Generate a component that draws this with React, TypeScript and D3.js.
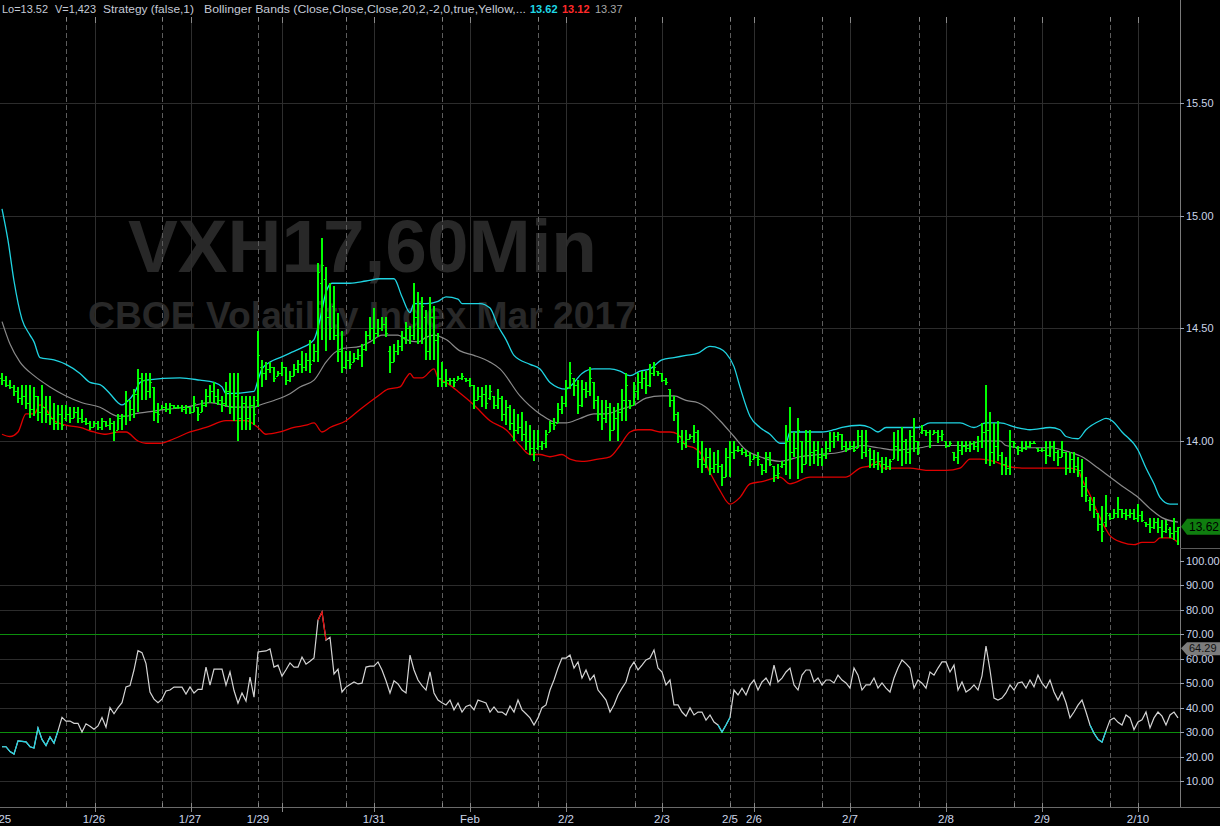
import { useEffect } from "react";
import * as d3 from "d3";

// hourly bars: [open, high, low, close]
const priceBars: [number, number, number, number][] = [
  [14.28,14.30,14.25,14.27],[14.27,14.29,14.24,14.25],[14.25,14.27,14.23,14.24],[14.24,14.25,14.20,14.22],[14.22,14.24,14.17,14.19],
  [14.19,14.25,14.16,14.20],[14.20,14.25,14.14,14.17],[14.17,14.25,14.10,14.14],[14.14,14.24,14.11,14.20],[14.20,14.20,14.09,14.13],
  [14.13,14.25,14.08,14.15],[14.15,14.20,14.08,14.12],[14.12,14.20,14.07,14.10],[14.10,14.17,14.05,14.08],[14.08,14.16,14.05,14.12],
  [14.12,14.16,14.05,14.07],[14.10,14.16,14.09,14.12],[14.12,14.15,14.08,14.10],[14.10,14.15,14.10,14.13],[14.13,14.15,14.08,14.10],
  [14.10,14.14,14.08,14.09],[14.09,14.10,14.07,14.08],[14.08,14.09,14.05,14.06],[14.06,14.09,14.06,14.08],[14.08,14.09,14.05,14.06],
  [14.06,14.10,14.05,14.09],[14.09,14.09,14.06,14.07],[14.07,14.10,14.05,14.08],[14.08,14.09,14.00,14.04],[14.05,14.12,14.05,14.10],
  [14.10,14.12,14.05,14.11],[14.11,14.22,14.07,14.18],[14.18,14.18,14.09,14.14],[14.14,14.23,14.10,14.21],[14.21,14.32,14.13,14.28],
  [14.28,14.30,14.18,14.27],[14.27,14.30,14.18,14.22],[14.22,14.30,14.19,14.26],[14.24,14.24,14.09,14.13],[14.13,14.17,14.08,14.12],
  [14.14,14.16,14.14,14.15],[14.15,14.17,14.13,14.14],[14.14,14.17,14.12,14.16],[14.16,14.16,14.14,14.15],[14.15,14.16,14.14,14.15],
  [14.15,14.16,14.13,14.14],[14.14,14.16,14.12,14.15],[14.15,14.15,14.12,14.13],[14.13,14.20,14.13,14.17],[14.15,14.15,14.09,14.12],
  [14.13,14.18,14.13,14.16],[14.16,14.23,14.15,14.20],[14.20,14.25,14.17,14.22],[14.22,14.26,14.17,14.20],[14.20,14.23,14.16,14.18],
  [14.18,14.20,14.13,14.17],[14.17,14.26,14.15,14.22],[14.22,14.30,14.12,14.15],[14.15,14.30,14.09,14.20],[14.20,14.30,14.00,14.10],
  [14.10,14.20,14.05,14.17],[14.17,14.20,14.05,14.10],[14.10,14.20,14.05,14.16],[14.16,14.20,14.07,14.12],[14.18,14.49,14.15,14.38],
  [14.33,14.36,14.24,14.30],[14.30,14.35,14.27,14.32],[14.32,14.35,14.30,14.33],[14.33,14.33,14.26,14.28],[14.29,14.31,14.29,14.30],
  [14.30,14.35,14.29,14.33],[14.33,14.33,14.25,14.27],[14.27,14.31,14.26,14.29],[14.29,14.34,14.29,14.32],[14.32,14.36,14.30,14.34],
  [14.34,14.40,14.30,14.33],[14.33,14.39,14.31,14.36],[14.36,14.45,14.30,14.34],[14.36,14.43,14.35,14.40],[14.40,14.79,14.35,14.75],
  [14.70,14.90,14.45,14.78],[14.72,14.77,14.40,14.55],[14.55,14.70,14.45,14.50],[14.60,14.69,14.45,14.47],[14.47,14.57,14.35,14.40],
  [14.40,14.49,14.30,14.33],[14.33,14.40,14.32,14.36],[14.36,14.40,14.32,14.34],[14.35,14.39,14.35,14.37],[14.37,14.41,14.36,14.38],
  [14.38,14.43,14.33,14.41],[14.41,14.49,14.40,14.47],[14.47,14.55,14.45,14.50],[14.50,14.59,14.43,14.48],[14.48,14.54,14.46,14.50],
  [14.50,14.55,14.49,14.52],[14.52,14.55,14.46,14.48],[14.40,14.42,14.30,14.35],[14.35,14.43,14.35,14.40],[14.40,14.45,14.38,14.42],
  [14.42,14.49,14.40,14.46],[14.46,14.53,14.43,14.50],[14.50,14.51,14.43,14.47],[14.47,14.70,14.45,14.55],[14.55,14.66,14.43,14.50],
  [14.50,14.64,14.43,14.60],[14.55,14.58,14.36,14.40],[14.40,14.64,14.36,14.55],[14.55,14.60,14.36,14.45],[14.45,14.48,14.24,14.28],
  [14.28,14.35,14.24,14.26],[14.26,14.32,14.24,14.27],[14.27,14.28,14.25,14.27],[14.27,14.28,14.24,14.26],[14.27,14.29,14.27,14.28],
  [14.28,14.30,14.27,14.29],[14.28,14.28,14.26,14.27],[14.27,14.28,14.24,14.25],[14.25,14.25,14.14,14.18],[14.18,14.24,14.18,14.20],
  [14.20,14.24,14.15,14.21],[14.21,14.25,14.14,14.17],[14.19,14.25,14.18,14.22],[14.20,14.20,14.14,14.16],[14.16,14.23,14.14,14.19],
  [14.19,14.20,14.09,14.12],[14.12,14.18,14.07,14.15],[14.15,14.16,14.05,14.08],[14.08,14.14,14.00,14.05],[14.05,14.12,14.03,14.06],
  [14.06,14.13,14.00,14.03],[14.03,14.09,13.96,14.00],[14.00,14.07,13.94,13.97],[13.97,14.05,13.91,13.95],[13.97,14.05,13.96,13.98],
  [13.98,14.00,13.96,13.99],[13.99,14.05,13.97,14.03],[14.04,14.09,14.04,14.08],[14.08,14.10,14.05,14.07],[14.08,14.17,14.08,14.14],
  [14.14,14.20,14.12,14.17],[14.17,14.27,14.15,14.24],[14.24,14.35,14.23,14.30],[14.28,14.28,14.20,14.25],[14.25,14.27,14.12,14.16],
  [14.16,14.27,14.15,14.23],[14.23,14.26,14.19,14.22],[14.22,14.33,14.20,14.28],[14.26,14.26,14.14,14.18],[14.18,14.20,14.09,14.12],
  [14.12,14.18,14.05,14.10],[14.10,14.18,14.08,14.15],[14.15,14.17,14.00,14.05],[14.05,14.15,14.05,14.10],[14.10,14.17,14.00,14.13],
  [14.13,14.23,14.09,14.18],[14.18,14.30,14.09,14.25],[14.18,14.18,14.14,14.16],[14.16,14.26,14.16,14.22],[14.22,14.30,14.18,14.26],
  [14.26,14.31,14.23,14.28],[14.28,14.31,14.21,14.25],[14.25,14.34,14.24,14.30],[14.30,14.35,14.29,14.33],[14.31,14.31,14.29,14.30],
  [14.30,14.30,14.26,14.27],[14.27,14.28,14.25,14.26],[14.23,14.23,14.15,14.18],[14.18,14.20,14.09,14.12],[14.12,14.13,13.99,14.02],
  [14.02,14.05,13.96,13.99],[13.99,14.05,13.97,14.01],[14.01,14.03,14.01,14.02],[14.02,14.07,13.99,14.04],[14.04,14.05,13.88,13.92],
  [13.92,14.00,13.86,13.90],[13.90,13.97,13.88,13.93],[13.93,13.97,13.85,13.88],[13.88,13.95,13.86,13.90],[13.90,13.96,13.86,13.89],
  [13.89,13.90,13.80,13.84],[13.84,13.97,13.84,13.93],[13.93,14.00,13.84,13.95],[13.95,14.00,13.92,13.96],[13.96,13.98,13.95,13.96],
  [13.96,13.97,13.94,13.95],[13.95,13.96,13.93,13.94],[13.94,13.95,13.89,13.91],[13.92,13.94,13.92,13.93],[13.93,13.95,13.89,13.92],
  [13.90,13.90,13.85,13.87],[13.87,13.95,13.86,13.93],[13.93,13.95,13.89,13.90],[13.89,13.89,13.82,13.85],[13.85,13.90,13.83,13.86],
  [13.89,13.91,13.88,13.90],[13.90,14.07,13.85,14.00],[14.00,14.15,13.83,13.95],[13.95,14.04,13.93,13.97],[13.97,14.10,13.83,14.05],
  [14.00,14.00,13.86,13.90],[13.90,14.05,13.90,14.00],[14.00,14.05,13.89,13.95],[13.95,14.00,13.90,13.96],[13.96,14.00,13.89,13.93],
  [13.93,13.97,13.89,13.94],[13.94,14.00,13.92,13.97],[13.97,14.04,13.95,14.00],[14.00,14.04,13.97,14.02],[14.02,14.04,14.00,14.03],
  [14.03,14.03,13.96,13.98],[13.98,14.00,13.95,13.97],[13.97,14.00,13.96,13.98],[13.98,14.00,13.95,13.96],[13.97,14.05,13.97,14.02],
  [14.02,14.05,13.92,13.95],[13.95,14.05,13.93,14.00],[13.96,13.97,13.88,13.92],[13.92,13.96,13.88,13.90],[13.90,13.95,13.87,13.91],
  [13.91,13.93,13.86,13.90],[13.90,13.93,13.87,13.89],[13.89,13.92,13.87,13.91],[13.92,14.04,13.92,13.98],[13.98,14.05,13.91,13.96],
  [13.96,14.06,13.89,14.00],[14.00,14.01,13.90,13.95],[13.95,14.05,13.90,14.02],[14.02,14.10,13.95,14.00],[14.00,14.00,13.94,13.97],
  [14.04,14.07,14.03,14.05],[14.05,14.05,14.02,14.04],[14.04,14.05,13.97,14.00],[14.03,14.05,14.03,14.04],[14.04,14.05,13.99,14.02],
  [14.02,14.05,14.00,14.03],[14.00,14.00,13.97,13.98],[13.98,14.00,13.98,13.99],[13.95,13.95,13.91,13.93],[13.93,14.00,13.90,13.96],
  [13.96,14.00,13.94,13.98],[13.98,14.00,13.95,13.97],[13.97,14.00,13.95,13.99],[13.99,14.00,13.96,13.98],[13.98,14.02,13.95,14.00],
  [14.00,14.08,13.97,14.04],[14.04,14.25,13.90,14.05],[14.05,14.13,13.89,13.95],[13.95,14.08,13.90,13.98],[13.98,14.09,13.91,13.94],
  [13.94,13.95,13.85,13.90],[13.90,13.93,13.85,13.88],[13.88,14.05,13.85,14.00],[14.00,14.00,13.97,13.99],[13.97,13.98,13.94,13.96],
  [13.96,14.00,13.95,13.97],[13.97,14.00,13.96,13.98],[13.98,14.00,13.97,13.99],[13.99,14.00,13.99,13.99],[13.97,13.97,13.95,13.96],
  [13.96,13.97,13.95,13.96],[13.96,14.00,13.90,13.94],[13.94,14.00,13.93,13.98],[13.98,14.00,13.91,13.95],[13.95,13.96,13.89,13.93],
  [13.93,14.00,13.93,13.95],[13.95,13.95,13.85,13.88],[13.88,13.95,13.86,13.92],[13.92,13.95,13.86,13.89],[13.89,13.93,13.84,13.87],
  [13.87,13.92,13.75,13.80],[13.80,13.84,13.73,13.76],[13.74,13.75,13.69,13.72],[13.72,13.75,13.66,13.70],[13.68,13.68,13.60,13.63],
  [13.63,13.71,13.55,13.60],[13.64,13.76,13.62,13.68],[13.67,13.68,13.65,13.66],[13.66,13.70,13.66,13.68],[13.68,13.75,13.66,13.70],
  [13.70,13.70,13.66,13.68],[13.68,13.70,13.65,13.67],[13.67,13.70,13.66,13.68],[13.68,13.70,13.65,13.66],[13.66,13.72,13.64,13.67],
  [13.67,13.69,13.64,13.65],[13.64,13.64,13.62,13.63],[13.63,13.66,13.59,13.62],[13.62,13.66,13.61,13.64],[13.64,13.66,13.59,13.62],
  [13.62,13.65,13.57,13.60],[13.60,13.65,13.59,13.63],[13.61,13.62,13.57,13.59],[13.59,13.66,13.56,13.60],[13.60,13.62,13.54,13.62],
];

// Bollinger bands: [bar, price]
const upperBand: [number, number][] = [
  [0,15.03],[1.5,14.89],[3,14.71],[5,14.54],[7,14.47],[8,14.44],[9.5,14.37],[13,14.36],[16,14.34],[19.5,14.30],[22,14.26],
  [24.5,14.25],[27,14.21],[29,14.17],[30,14.16],[31,14.17],[33,14.21],[34.5,14.26],[36,14.27],[44.5,14.28],[49.5,14.27],
  [53,14.26],[55,14.24],[56,14.21],[63,14.22],[64,14.27],[65,14.32],[67,14.35],[69.5,14.37],[72,14.39],[74.5,14.41],[78,14.45],
  [79.5,14.54],[81,14.66],[82.5,14.70],[87,14.70],[91,14.71],[94.5,14.72],[98,14.72],[100,14.64],[102,14.57],[103,14.61],
  [106,14.61],[109,14.62],[111,14.64],[114,14.63],[115,14.61],[119.5,14.61],[122,14.59],[124,14.51],[126,14.45],[128,14.38],
  [132,14.34],[134.5,14.32],[137,14.26],[141,14.23],[142.5,14.25],[145,14.30],[148,14.32],[152,14.32],[154.5,14.31],[157,14.29],
  [159.5,14.31],[162,14.32],[165,14.36],[168,14.37],[171,14.38],[174,14.39],[177,14.42],[179.5,14.41],[181,14.39],[183,14.33],
  [184.5,14.24],[187,14.11],[189.5,14.06],[192,14.03],[194.5,13.99],[196,13.99],[197,14.04],[199.5,14.04],[205,14.04],[208,14.05],
  [210,14.06],[214.5,14.07],[217,14.06],[219,14.04],[221,14.06],[225,14.06],[229,14.06],[232,14.08],[236,14.08],[239.5,14.08],
  [243,14.06],[246,14.08],[249.5,14.08],[253.5,14.06],[257,14.05],[262,14.06],[264.5,14.05],[266,14.02],[269,14.01],[271,14.05],
  [274.5,14.09],[276,14.10],[277.5,14.09],[280,14.04],[284,13.96],[286,13.88],[288,13.81],[289.5,13.75],[292,13.72],[294,13.72],
];
const middleBand: [number, number][] = [
  [0,14.53],[2,14.43],[4.5,14.35],[8,14.29],[12,14.24],[16,14.20],[20,14.17],[24.5,14.15],[29,14.11],[31,14.11],[33,14.12],
  [37,14.13],[41,14.14],[46,14.15],[52,14.17],[58,14.15],[63,14.15],[64.5,14.16],[68,14.18],[72,14.21],[74.5,14.24],[78,14.27],
  [81,14.35],[83,14.39],[85,14.41],[89.5,14.42],[92,14.44],[95,14.47],[99,14.47],[101,14.45],[104,14.44],[106,14.46],[108,14.47],
  [111,14.45],[114.5,14.40],[118,14.38],[122,14.35],[124.5,14.32],[129.5,14.20],[134.5,14.12],[139,14.08],[141,14.08],
  [144.5,14.10],[148,14.12],[151,14.12],[154.5,14.14],[158,14.16],[161,14.19],[165,14.20],[168,14.20],[171,14.18],[174,14.17],
  [176,14.15],[179.5,14.09],[183,14.02],[186,13.96],[189.5,13.93],[194.5,13.91],[199.5,13.93],[204.5,13.94],[209.5,13.95],
  [213,13.97],[215,13.98],[219,13.97],[223,13.96],[229.5,13.97],[233,13.98],[238,13.98],[241,13.98],[245,14.00],[249.5,14.00],
  [251,13.98],[255,13.97],[262,13.97],[267,13.95],[270,13.93],[274,13.88],[277,13.84],[280,13.80],[284,13.75],[287,13.70],
  [290,13.66],[294,13.64],
];
const lowerBand: [number, number][] = [
  [0,14.03],[2,14.02],[4,14.04],[6,14.12],[8,14.12],[9.5,14.16],[11,14.14],[13,14.09],[16,14.07],[19.5,14.06],[23,14.04],
  [26,14.03],[29,14.04],[31,14.04],[34,14.00],[36,13.99],[39.5,13.99],[43,14.01],[47,14.04],[51,14.06],[56,14.09],[61,14.09],
  [64,14.06],[66,14.03],[69.5,14.04],[73,14.06],[76,14.07],[78,14.08],[80,14.04],[82,14.06],[86,14.09],[89.5,14.14],[94,14.20],
  [96.5,14.23],[99.5,14.24],[101,14.28],[102,14.30],[103,14.28],[105,14.28],[108,14.32],[109,14.28],[111,14.26],[114,14.22],
  [118,14.16],[122,14.09],[126,14.05],[129.5,13.98],[132,13.94],[134.5,13.94],[137,13.93],[140,13.94],[142,13.92],[145,13.91],
  [149,13.92],[152,13.93],[154.5,13.98],[157,14.04],[159,14.05],[162,14.05],[164.5,14.04],[167,14.04],[169,14.03],[171,13.98],
  [173,13.97],[174.5,13.95],[177,13.86],[179.5,13.78],[182,13.72],[184.5,13.75],[187,13.81],[190,13.82],[194.5,13.84],[197,13.81],
  [202,13.84],[207,13.84],[211,13.84],[214.5,13.88],[217,13.89],[219,13.91],[220,13.88],[223,13.88],[227,13.88],[231,13.87],
  [236,13.87],[239.5,13.88],[242,13.92],[244.5,13.92],[248,13.91],[251,13.89],[255,13.88],[264,13.88],[267,13.88],[269,13.87],
  [270,13.83],[272,13.76],[274.5,13.66],[277,13.58],[280,13.55],[283,13.54],[285,13.55],[288,13.55],[289.5,13.57],[292,13.57],
  [294,13.55],
];

// oscillator, one value per bar
const oscValues = [
  24,24,22,21,26.4,26.2,26,24,23.5,31.7,
  27,24.5,28,25.5,30.5,36,34.5,34.5,33.6,33.6,
  30,33.4,32.4,31.2,32.5,36,32,40,37.5,40,
  42,48.5,49,55.4,63.3,62.5,58,46.4,43.5,42,
  43.5,46.8,47.2,48.4,48.4,48.4,45.6,48.5,46,47.5,
  47.5,56.6,49.2,55.8,55.8,55.8,49.2,54.6,47,41.8,
  46,42.7,52.5,44.3,62.8,63,63.2,64,56.6,57.4,
  52.9,55.5,58.3,56.6,56.6,60.7,57.8,59,60.3,75.8,
  79.1,67.6,68.8,53.8,55.8,46.4,48.4,49.5,50.5,49.7,
  50,56.6,57,57,58.7,55.4,51,46,51,49.7,
  47.2,46,61.5,55.4,51.3,49,47.2,54.6,46,43.1,
  42,41.1,43.1,39.1,41.9,38.2,40.5,41.1,39.1,43.1,
  42.5,41.9,38.2,40.3,38.2,38.2,37,40.7,38.2,43.1,
  39.1,37.5,35.8,32.9,35.8,40,41.1,47.2,51.3,56.2,
  60.3,60.3,61.5,56.2,58.7,52.1,55.4,51.3,53.3,47.2,
  45.2,43.1,38.2,41.1,45.2,48,50.5,56.2,58.7,55.4,
  57.4,59.5,60.3,63.6,56.2,54.6,49.3,51.3,41.1,41.1,
  38.2,36.5,39.9,37,38.2,38.2,34.9,37,34.1,32.9,
  30,32.9,36,47.2,45.2,48,45.2,49.3,51.3,47.2,
  50.5,52.1,49.3,57.4,50.5,52.1,54.6,56.2,49.3,47.2,
  53.3,55.4,55.4,50.5,52.1,49.3,51.3,51.3,50.1,53.3,
  51.3,50.1,48,56.2,53.3,47.2,49.3,49.3,52.1,48,
  50.1,48,46.4,52.1,56.2,59.5,58,56.2,48,51.3,
  50,48,54.6,53.3,56.2,58.7,58.7,54.6,57.4,47.2,
  50.5,46.4,47.5,49.3,47.2,53,65.2,55.4,43.9,43.1,
  43.9,46,49.3,47.2,50.1,50.5,48,51.3,48.5,53.3,
  50,48,51.3,46.4,43.1,46.4,42,35.8,38.2,41,
  43.1,38.2,32.9,29.5,27,25.9,30.5,34.9,35.8,34,
  32.9,37,35.8,31,34.1,35,38.2,31.7,35.8,38.2,
  36.5,32.9,37,38.2,35.8,
];
const oversoldSpans = [[0, 14], [179, 182], [272, 276]];
const overboughtSpans = [[79, 81]];

const priceTicks = [14, 14.5, 15, 15.5];
const oscTicks = [10, 20, 30, 40, 50, 60, 70, 80, 90, 100];
const oscLevels = [30, 70];

const dateLabels = ["1/25", "1/26", "1/27", "1/29", "1/31", "Feb", "2/2", "2/3", "2/5", "2/6", "2/7", "2/8", "2/9", "2/10"];
const dateLabelBars = [-0.5, 23, 47, 64, 93, 117, 141, 165, 182, 188, 212, 236, 260, 284];
const dayLineBars = [23.25, 47.25, 70, 93, 117, 141, 165, 188, 212, 236, 260, 284];
const sessionLineBars = [16, 40, 64, 86, 110, 134, 158.25, 182, 205, 229.25, 253, 277];

const FONT = '"Liberation Sans", Arial, Helvetica, sans-serif';
const W = 1220;
const H = 826;
const AXIS_X = 1180;

export default function App() {
  useEffect(() => {
    document.body.style.margin = "0";
    document.body.style.background = "#000";
  }, []);

  const x = d3.scaleLinear().domain([0, priceBars.length - 1]).range([2, 1178]);
  const yP = d3.scaleLinear().domain([14, 15.5]).range([441, 103]);
  const yO = d3.scaleLinear().domain([0, 100]).range([805.4, 561]);

  const band = d3
    .line<[number, number]>()
    .x((d) => x(d[0]))
    .y((d) => yP(d[1]))
    .curve(d3.curveMonotoneX);

  const oscLine = (start: number, end: number) =>
    d3
      .line<number>()
      .x((d, i) => x(start + i))
      .y((d) => yO(d))(oscValues.slice(start, end + 1)) || "";

  // crisp OHLC bars: 2px stem, short open/close ticks
  const stems = priceBars
    .map(([, h, l], i) => {
      const bx = Math.round(x(i));
      return `M${bx},${Math.round(yP(h))}V${Math.round(yP(l))}`;
    })
    .join("");
  const ticks = priceBars
    .map(([o, , , c], i) => {
      const bx = Math.round(x(i));
      return `M${bx - 2},${Math.round(yP(o)) + 0.5}H${bx}M${bx},${Math.round(yP(c)) + 0.5}H${bx + 2}`;
    })
    .join("");

  const px = (b: number) => Math.round(x(b)) + 0.5;

  return (
    <svg width={W} height={H} style={{ position: "fixed", left: 0, top: 0, background: "#000" }} fontFamily={FONT}>
      <defs>
        <clipPath id="upper">
          <rect x={0} y={17} width={AXIS_X} height={531} />
        </clipPath>
        <clipPath id="lower">
          <rect x={0} y={549} width={AXIS_X} height={258} />
        </clipPath>
      </defs>
      <rect width={W} height={H} fill="#000" />

      {/* watermark */}
      <text x={128} y={272} fontSize={75} fontWeight="bold" fill="#282828" textLength={469} lengthAdjust="spacingAndGlyphs">
        VXH17,60Min
      </text>
      <text x={88} y={328} fontSize={37} fontWeight="bold" fill="#282828" textLength={548} lengthAdjust="spacingAndGlyphs">
        CBOE Volatility Index Mar 2017
      </text>

      {/* grid */}
      {priceTicks.map((t) => (
        <line key={"pg" + t} x1={0} x2={AXIS_X} y1={Math.round(yP(t)) + 0.5} y2={Math.round(yP(t)) + 0.5} stroke="#2c2c2c" />
      ))}
      {oscTicks
        .filter((t) => t !== 100 && !oscLevels.includes(t))
        .map((t) => (
          <line key={"og" + t} x1={0} x2={AXIS_X} y1={Math.round(yO(t)) + 0.5} y2={Math.round(yO(t)) + 0.5} stroke="#2c2c2c" />
        ))}
      {dayLineBars.map((b) => (
        <line key={"d" + b} x1={px(b)} x2={px(b)} y1={17} y2={807} stroke="#2e2e2e" />
      ))}
      {sessionLineBars.map((b) => (
        <line key={"s" + b} x1={px(b)} x2={px(b)} y1={17} y2={807} stroke="#5c5c5c" strokeDasharray="5,3" />
      ))}
      {oscLevels.map((t) => (
        <line key={"lv" + t} x1={0} x2={AXIS_X} y1={Math.round(yO(t)) + 0.5} y2={Math.round(yO(t)) + 0.5} stroke="#0c8f0c" />
      ))}

      {/* price panel */}
      <g clipPath="url(#upper)">
        <path d={band(upperBand) || ""} fill="none" stroke="#1fd4e2" strokeWidth={1.3} />
        <path d={band(middleBand) || ""} fill="none" stroke="#8a8a8a" strokeWidth={1.2} />
        <path d={band(lowerBand) || ""} fill="none" stroke="#e00000" strokeWidth={1.3} />
        <path d={stems} fill="none" stroke="#00ff00" strokeWidth={1.5} shapeRendering="crispEdges" />
        <path d={ticks} fill="none" stroke="#00ff00" strokeWidth={1} shapeRendering="crispEdges" />
      </g>

      {/* oscillator panel */}
      <g clipPath="url(#lower)" fill="none" strokeWidth={1.2}>
        <path d={oscLine(0, oscValues.length - 1)} stroke="#d4d4d4" />
        {oversoldSpans.map(([a, b]) => (
          <path key={"os" + a} d={oscLine(a, b)} stroke="#1fd4e2" />
        ))}
        {overboughtSpans.map(([a, b]) => (
          <path key={"ob" + a} d={oscLine(a, b)} stroke="#e00000" />
        ))}
      </g>

      {/* axes */}
      <line x1={AXIS_X + 0.5} x2={AXIS_X + 0.5} y1={0} y2={807} stroke="#7a7a7a" />
      <line x1={AXIS_X} x2={W} y1={548.5} y2={548.5} stroke="#5a5a5a" />
      <line x1={0} x2={W} y1={807.5} y2={807.5} stroke="#6a6a6a" />
      {priceTicks.map((t) => (
        <g key={"pl" + t}>
          <line x1={AXIS_X} x2={AXIS_X + 4} y1={Math.round(yP(t)) + 0.5} y2={Math.round(yP(t)) + 0.5} stroke="#9aa3b3" />
          <text x={AXIS_X + 6} y={yP(t) + 4} fontSize={11} fill="#cbd5e8">
            {t.toFixed(2)}
          </text>
        </g>
      ))}
      {oscTicks.map((t) => (
        <g key={"ol" + t}>
          <line x1={AXIS_X} x2={AXIS_X + 4} y1={Math.round(yO(t)) + 0.5} y2={Math.round(yO(t)) + 0.5} stroke="#9aa3b3" />
          <text x={AXIS_X + 6} y={yO(t) + 4} fontSize={11} fill="#cbd5e8">
            {t.toFixed(2)}
          </text>
        </g>
      ))}

      {/* last value markers */}
      <path
        d={`M${AXIS_X + 1},${yP(priceBars[priceBars.length - 1][3])}l6,-8H${W}v16H${AXIS_X + 7}Z`}
        fill="#0f7d0f"
      />
      <text x={AXIS_X + 9} y={yP(priceBars[priceBars.length - 1][3]) + 4.5} fontSize={12} fill="#000">
        {priceBars[priceBars.length - 1][3].toFixed(2)}
      </text>
      <path d={`M${AXIS_X + 1},${yO(64.29)}l6,-6H${W}v13H${AXIS_X + 7}Z`} fill="#7c7c7c" />
      <text x={AXIS_X + 9} y={yO(64.29) + 4} fontSize={11} fill="#111">
        64.29
      </text>

      {/* time axis */}
      {sessionLineBars.map((b) => (
        <g key={"ts" + b}>
          <line x1={px(b)} x2={px(b)} y1={17} y2={21} stroke="#888" />
          <line x1={px(b)} x2={px(b)} y1={803} y2={807} stroke="#888" />
        </g>
      ))}
      {dayLineBars.map((b) => (
        <g key={"td" + b}>
          <line x1={px(b)} x2={px(b)} y1={17} y2={23} stroke="#888" />
          <line x1={px(b)} x2={px(b)} y1={803} y2={812} stroke="#888" />
        </g>
      ))}
      {dateLabels.map((lab, i) => (
        <text key={lab} x={x(dateLabelBars[i])} y={823} fontSize={11.5} fill="#cbd5e8" textAnchor="middle">
          {lab}
        </text>
      ))}

      {/* header */}
      <g fontSize={11} fill="#c5cad6">
        <text x={2} y={13} textLength={46} lengthAdjust="spacingAndGlyphs">Lo=13.52</text>
        <text x={55} y={13} textLength={41} lengthAdjust="spacingAndGlyphs">V=1,423</text>
        <text x={103} y={13} textLength={91} lengthAdjust="spacingAndGlyphs">Strategy (false,1)</text>
        <text x={204} y={13} textLength={322} lengthAdjust="spacingAndGlyphs">
          Bollinger Bands (Close,Close,Close,20,2,-2,0,true,Yellow,...
        </text>
        <text x={530} y={13} fill="#1fd8e6" fontWeight="bold">13.62</text>
        <text x={562} y={13} fill="#ff2a2a" fontWeight="bold">13.12</text>
        <text x={595} y={13} fill="#a8a8a8">13.37</text>
      </g>
    </svg>
  );
}
